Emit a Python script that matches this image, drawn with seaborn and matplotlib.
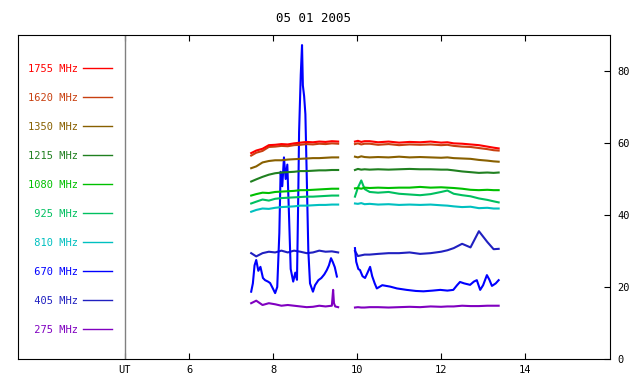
import pandas as pd
import seaborn as sns
import matplotlib.pyplot as plt

# legend labels (top to bottom) and colours
freqs = ["1755 MHz", "1620 MHz", "1350 MHz", "1215 MHz", "1080 MHz",
         " 925 MHz", " 810 MHz", " 670 MHz", " 405 MHz", " 275 MHz"]
colors = ["#ff0000", "#c84010", "#886000", "#208020", "#00c000",
          "#00c060", "#00c0c0", "#0000ff", "#2020c0", "#8000c0"]

# shared time grids (UT hours) for the two observing blocks
seg1_t = [7.48, 7.6, 7.75, 7.9, 8.05, 8.2, 8.35, 8.5, 8.65, 8.8, 8.95, 9.1, 9.25, 9.4, 9.55]
seg2_t = [9.95, 10.02, 10.1, 10.18, 10.3, 10.5, 10.75, 11.0, 11.25, 11.5, 11.75, 12.0,
          12.15, 12.3, 12.5, 12.7, 12.9, 13.1, 13.25, 13.37]

f1755_a = [57.2, 57.9, 58.4, 59.4, 59.5, 59.7, 59.6, 59.9, 60.1, 60.3, 60.2, 60.4, 60.3, 60.5, 60.4]
f1755_b = [60.4, 60.6, 60.3, 60.5, 60.5, 60.2, 60.4, 60.1, 60.3, 60.2, 60.4, 60.1, 60.2, 59.9,
           59.8, 59.6, 59.4, 59.0, 58.7, 58.5]
f1620_a = [56.5, 57.3, 57.8, 58.9, 59.0, 59.2, 59.1, 59.4, 59.5, 59.7, 59.6, 59.8, 59.7, 59.9, 59.8]
f1620_b = [59.7, 59.9, 59.6, 59.8, 59.8, 59.5, 59.7, 59.4, 59.6, 59.5, 59.6, 59.4, 59.5, 59.2,
           59.0, 58.9, 58.6, 58.3, 58.0, 57.9]
f1350_a = [53.0, 53.5, 54.6, 55.0, 55.2, 55.2, 55.4, 55.5, 55.6, 55.7, 55.8, 55.8, 55.9, 56.0, 56.0]
f1350_b = [56.2, 56.0, 56.3, 56.1, 56.0, 56.1, 56.0, 56.2, 56.0, 56.1, 56.0, 55.9, 56.0, 55.8,
           55.7, 55.6, 55.3, 55.1, 54.9, 54.8]
f1215_a = [49.3, 49.9, 50.6, 51.2, 51.6, 51.8, 51.9, 52.0, 52.2, 52.2, 52.3, 52.4, 52.4, 52.5, 52.5]
f1215_b = [52.5, 52.8, 52.6, 52.7, 52.6, 52.7, 52.6, 52.7, 52.8, 52.7, 52.7, 52.6, 52.6, 52.4,
           52.1, 51.9, 51.7, 51.8, 51.7, 51.8]
f1080_a = [45.4, 45.8, 46.2, 46.1, 46.4, 46.5, 46.6, 46.7, 46.9, 46.9, 47.0, 47.1, 47.2, 47.3, 47.3]
f1080_b = [47.4, 47.5, 47.3, 47.6, 47.5, 47.6, 47.5, 47.6, 47.6, 47.8, 47.6, 47.7, 47.6, 47.5,
           47.3, 47.0, 46.9, 47.0, 46.9, 46.9]
f925_a = [43.2, 43.7, 44.3, 44.0, 44.5, 44.7, 44.8, 44.9, 45.0, 45.1, 45.1, 45.2, 45.3, 45.4, 45.4]
f925_b = [45.1, 47.6, 49.6, 47.2, 46.4, 46.2, 46.4, 45.9, 45.7, 45.5, 45.8, 46.4, 46.8, 45.9,
          45.5, 45.2, 44.6, 44.2, 43.8, 43.5]
f810_a = [40.9, 41.4, 41.8, 41.7, 42.0, 42.2, 42.3, 42.4, 42.6, 42.6, 42.7, 42.8, 42.8, 42.9, 42.9]
f810_b = [43.2, 43.1, 43.3, 43.0, 43.1, 42.9, 43.0, 42.8, 42.9, 42.8, 42.9, 42.7, 42.6, 42.4,
          42.2, 42.3, 41.9, 42.0, 41.8, 41.8]
f405_a = [29.4, 28.5, 29.4, 29.8, 29.6, 30.1, 29.6, 30.1, 29.8, 29.4, 29.6, 30.1, 29.8, 29.9, 29.6]
f405_b = [30.0, 28.6, 28.8, 29.0, 29.0, 29.2, 29.4, 29.4, 29.6, 29.2, 29.4, 29.8, 30.2, 30.8,
          32.0, 31.0, 35.5, 32.5, 30.5, 30.6]

# 670 MHz has a burst, so its own time samples
f670_ta = [7.48, 7.52, 7.56, 7.6, 7.65, 7.7, 7.76, 7.81, 7.88, 7.93, 8.0, 8.05, 8.1, 8.15,
           8.18, 8.22, 8.26, 8.3, 8.34, 8.38, 8.42, 8.48, 8.53, 8.57, 8.6, 8.62, 8.66, 8.69,
           8.71, 8.74, 8.77, 8.8, 8.84, 8.88, 8.95, 9.0, 9.08, 9.15, 9.22, 9.28, 9.33, 9.38,
           9.42, 9.47, 9.52]
f670_a = [18.7, 21.0, 26.0, 27.5, 24.5, 25.6, 22.5, 21.9, 21.5, 21.1, 19.5, 18.3, 20.0, 35.0,
          52.0, 48.0, 56.0, 50.0, 54.0, 40.0, 25.0, 21.5, 24.0, 22.0, 45.0, 63.0, 79.0, 87.2,
          76.0, 73.0, 68.0, 52.0, 30.0, 21.0, 18.7, 20.5, 21.9, 22.5, 23.5, 24.7, 26.0, 28.0,
          27.0, 25.5, 22.9]
f670_tb = [9.95, 9.98, 10.03, 10.07, 10.13, 10.19, 10.25, 10.31, 10.36, 10.42, 10.47, 10.6,
           10.79, 10.95, 11.18, 11.4, 11.58, 11.8, 11.98, 12.15, 12.29, 12.38, 12.45, 12.55,
           12.69, 12.78, 12.85, 12.93, 13.0, 13.09, 13.15, 13.21, 13.3, 13.37]
f670_b = [30.8, 27.0, 25.0, 24.7, 23.0, 22.5, 24.0, 25.6, 23.0, 21.0, 19.6, 20.5, 20.1, 19.6,
          19.2, 18.9, 18.8, 19.0, 19.2, 19.0, 19.2, 20.5, 21.4, 21.0, 20.6, 21.5, 21.9, 19.2,
          20.5, 23.3, 22.0, 20.3, 21.0, 21.9]

# 275 MHz with the small spike near 9.4 UT
f275_ta = [7.48, 7.6, 7.75, 7.9, 8.05, 8.2, 8.35, 8.5, 8.65, 8.8, 8.95, 9.1, 9.25, 9.4,
           9.43, 9.45, 9.48, 9.55]
f275_a = [15.5, 16.2, 15.0, 15.5, 15.2, 14.8, 15.0, 14.8, 14.6, 14.4, 14.5, 14.8, 14.6, 14.8,
          19.2, 15.5, 14.6, 14.4]
f275_b = [14.3, 14.4, 14.3, 14.3, 14.4, 14.4, 14.3, 14.4, 14.5, 14.4, 14.6, 14.5, 14.6, 14.6,
          14.8, 14.7, 14.7, 14.8, 14.8, 14.8]

series = [
    ("1755 MHz", seg1_t, f1755_a, seg2_t, f1755_b),
    ("1620 MHz", seg1_t, f1620_a, seg2_t, f1620_b),
    ("1350 MHz", seg1_t, f1350_a, seg2_t, f1350_b),
    ("1215 MHz", seg1_t, f1215_a, seg2_t, f1215_b),
    ("1080 MHz", seg1_t, f1080_a, seg2_t, f1080_b),
    (" 925 MHz", seg1_t, f925_a, seg2_t, f925_b),
    (" 810 MHz", seg1_t, f810_a, seg2_t, f810_b),
    (" 670 MHz", f670_ta, f670_a, f670_tb, f670_b),
    (" 405 MHz", seg1_t, f405_a, seg2_t, f405_b),
    (" 275 MHz", f275_ta, f275_a, seg2_t, f275_b),
]

rows = []
for name, ta, va, tb, vb in series:
    rows += [(name, "a", t, v) for t, v in zip(ta, va)]
    rows += [(name, "b", t, v) for t, v in zip(tb, vb)]
df = pd.DataFrame(rows, columns=["freq", "seg", "ut", "flux"])

plt.rcParams["font.family"] = "DejaVu Sans Mono"
plt.rcParams["font.size"] = 7.5

fig = plt.figure(figsize=(6.4, 3.84), dpi=100)
ax = fig.add_axes([18 / 640, 25 / 384, 592 / 640, 324 / 384])

# draw low frequencies first so red sits on top
sns.lineplot(data=df, x="ut", y="flux", hue="freq", units="seg", estimator=None,
             hue_order=freqs[::-1], palette=dict(zip(freqs, colors)),
             linewidth=1.5, ax=ax)

leg = ax.get_legend()
handles = leg.legend_handles[::-1]
labels = [t.get_text() for t in leg.texts][::-1]
for h in handles:
    h.set_linewidth(1.0)
leg.remove()
ax.legend(handles, labels, loc="upper left", bbox_to_anchor=(0.017, 0.912),
          frameon=False, markerfirst=False, labelcolor="linecolor",
          handlelength=2.78, handletextpad=0.5, labelspacing=1.83,
          borderpad=0, borderaxespad=0)

ut_pos = 4.476
ax.axvline(ut_pos, color="#808080", linewidth=1)

ax.set_xlim(1.93, 16.02)
ax.set_ylim(0, 90)
ax.set_xticks([ut_pos, 6, 8, 10, 12, 14])
ax.set_xticklabels(["UT", "6", "8", "10", "12", "14"])
ax.set_yticks([0, 20, 40, 60, 80])
ax.tick_params(axis="x", direction="in", length=4, top=True, pad=4)
ax.tick_params(axis="y", direction="in", length=4, left=False, right=True,
               labelleft=False, labelright=True, pad=5)
ax.set_xlabel("")
ax.set_ylabel("")
ax.set_title("05 01 2005", pad=9)

fig.savefig("out.png", dpi=100)
